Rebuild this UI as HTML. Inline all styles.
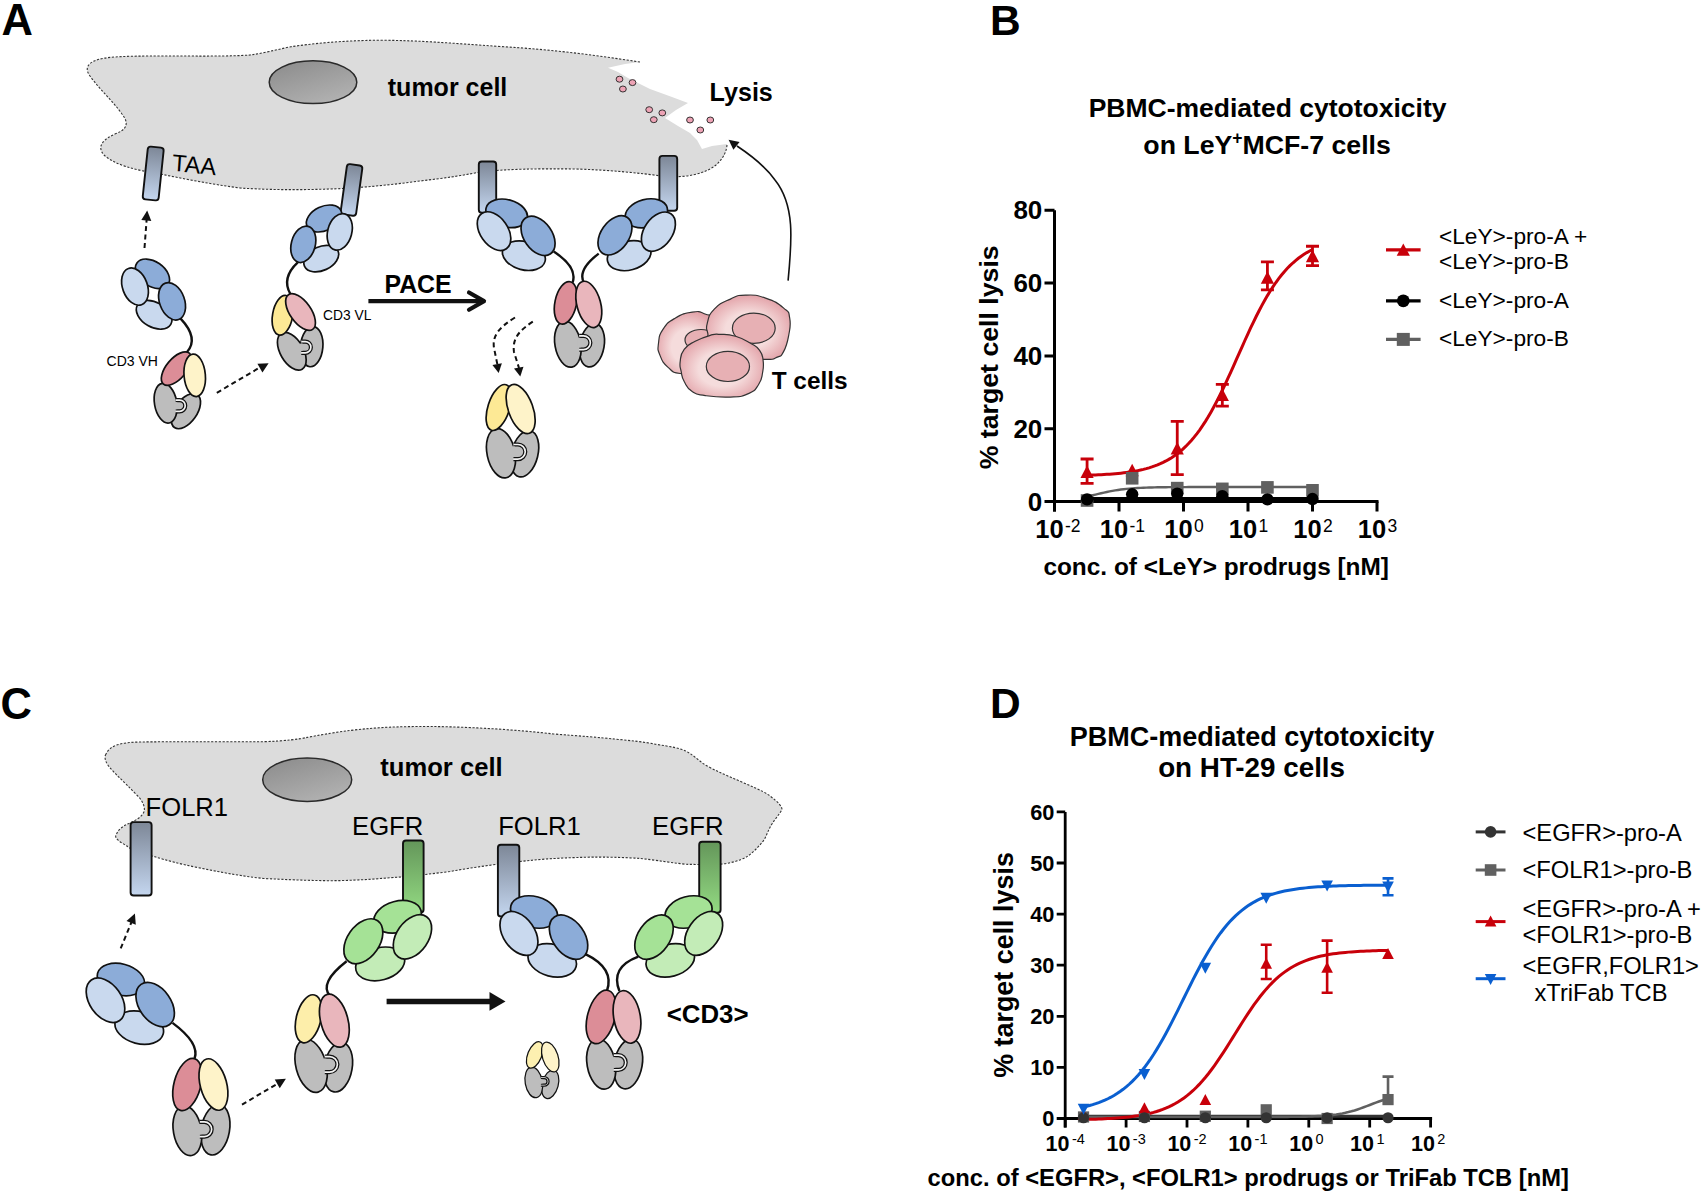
<!DOCTYPE html>
<html><head><meta charset="utf-8"><title>Figure</title>
<style>html,body{margin:0;padding:0;background:#fff;}svg{display:block;}</style>
</head><body>
<svg width="1704" height="1194" viewBox="0 0 1704 1194" font-family='"Liberation Sans", Arial, Helvetica, sans-serif' fill="#000">
<defs>
<linearGradient id="rg" x1="0" y1="0" x2="0" y2="1"><stop offset="0" stop-color="#7d8797"/><stop offset="1" stop-color="#c4d6ef"/></linearGradient>
<linearGradient id="rgC" x1="0" y1="0" x2="0" y2="1"><stop offset="0" stop-color="#7d8797"/><stop offset="1" stop-color="#c4d6ef"/></linearGradient>
<linearGradient id="gg" x1="0" y1="0" x2="0" y2="1"><stop offset="0" stop-color="#64965a"/><stop offset="1" stop-color="#93da82"/></linearGradient>
<linearGradient id="nuc" x1="0" y1="0" x2="0.6" y2="1"><stop offset="0" stop-color="#8a8a8a"/><stop offset="1" stop-color="#b0b0b0"/></linearGradient>
<radialGradient id="tc" cx="0.5" cy="0.55" r="0.55"><stop offset="0.5" stop-color="#f5dcdc"/><stop offset="1" stop-color="#e3a3a9"/></radialGradient>
</defs>
<rect width="1704" height="1194" fill="#fff"/>
<path d="M640 62 C600 56 560 50 500 46.5 C450 43 420 40.5 380 40.2 C340 40.5 310 44 291 46.7 C275 50 262 53.5 250 55 C230 56.5 200 56 160 56 C130 56 110 56.5 100 59 C88 62 84 68 90 76 C100 90 112 100 122 114 C130 124 126 130 115 134 C104 139 96 146 104 155 C115 165 135 170 160 174 C185 179 210 184 240 188 C270 190 300 190 330 189 C360 188 390 185 420 181 C445 178 460 176 480 172 C505 169 540 168.5 575 169 C610 170 640 173 665 176.5 C685 178 705 174 716 165 C724 158 727 150 727 144 L712 146 L702 149 L697 140 L690 133 L678 126 L665 118 L676 110 L688 103 L672 97 L650 89 L628 78 L618 72 L608 67.8 L625 64 Z" fill="#dcdcdc"/>
<path d="M640 62 C600 56 560 50 500 46.5 C450 43 420 40.5 380 40.2 C340 40.5 310 44 291 46.7 C275 50 262 53.5 250 55 C230 56.5 200 56 160 56 C130 56 110 56.5 100 59 C88 62 84 68 90 76 C100 90 112 100 122 114 C130 124 126 130 115 134 C104 139 96 146 104 155 C115 165 135 170 160 174 C185 179 210 184 240 188 C270 190 300 190 330 189 C360 188 390 185 420 181 C445 178 460 176 480 172 C505 169 540 168.5 575 169 C610 170 640 173 665 176.5 C685 178 705 174 716 165 C724 158 727 150 727 144" fill="none" stroke="#333" stroke-width="1.1" stroke-dasharray="2.2 1.6"/>
<ellipse cx="313" cy="82.2" rx="43.8" ry="21.4" fill="url(#nuc)" stroke="#2a2a2a" stroke-width="1.5"/>
<text x="387.8" y="96.4" font-size="25" font-weight="bold">tumor cell</text>
<text x="709.6" y="100.8" font-size="25.1" font-weight="bold">Lysis</text>
<ellipse cx="619.5" cy="79.2" rx="3.4" ry="3" fill="#eda3b5" stroke="#222" stroke-width="0.9"/>
<ellipse cx="632.5" cy="82.6" rx="3.4" ry="3" fill="#eda3b5" stroke="#222" stroke-width="0.9"/>
<ellipse cx="622.9" cy="89" rx="3.4" ry="3" fill="#eda3b5" stroke="#222" stroke-width="0.9"/>
<ellipse cx="649.2" cy="109.7" rx="3.4" ry="3" fill="#eda3b5" stroke="#222" stroke-width="0.9"/>
<ellipse cx="662.3" cy="112.9" rx="3.4" ry="3" fill="#eda3b5" stroke="#222" stroke-width="0.9"/>
<ellipse cx="653.8" cy="119.7" rx="3.4" ry="3" fill="#eda3b5" stroke="#222" stroke-width="0.9"/>
<ellipse cx="690" cy="120" rx="3.4" ry="3" fill="#eda3b5" stroke="#222" stroke-width="0.9"/>
<ellipse cx="710.3" cy="120" rx="3.4" ry="3" fill="#eda3b5" stroke="#222" stroke-width="0.9"/>
<ellipse cx="700.3" cy="130" rx="3.4" ry="3" fill="#eda3b5" stroke="#222" stroke-width="0.9"/>
<rect x="145.2" y="147" width="16" height="53" rx="3" fill="url(#rg)" stroke="#111" stroke-width="1.9" transform="rotate(6 153.2 173.5)"/>
<text x="0" y="0" font-size="23.5" transform="translate(171.8 170.6) rotate(6) skewX(2)">TAA</text>
<rect x="343.7" y="164.6" width="15.6" height="50.7" rx="3" fill="url(#rg)" stroke="#111" stroke-width="1.9" transform="rotate(7.8 351.5 189.95)"/>
<rect x="478.8" y="161.5" width="17.4" height="51.3" rx="3" fill="url(#rg)" stroke="#111" stroke-width="1.9"/>
<rect x="659.4" y="155.9" width="17.8" height="54.8" rx="3" fill="url(#rg)" stroke="#111" stroke-width="1.9"/>
<path d="M144.5 248 L146.6 220" fill="none" stroke="#111" stroke-width="2.0" stroke-dasharray="5 3.5"/>
<path d="M147.2 210.5L151.31 220.9L141.35 220.03Z" fill="#111"/>
<ellipse cx="152.5" cy="273.85" rx="19.01" ry="12.26" transform="rotate(35 152.5 273.85)" fill="#8cacd8" stroke="#111" stroke-width="1.7"/>
<ellipse cx="154.1" cy="314.8" rx="19.25" ry="12.42" transform="rotate(30 154.1 314.8)" fill="#c9d9ee" stroke="#111" stroke-width="1.7"/>
<ellipse cx="135" cy="286.6" rx="12.43" ry="19.26" transform="rotate(-20 135 286.6)" fill="#c9d9ee" stroke="#111" stroke-width="1.7"/>
<ellipse cx="172.05" cy="301.3" rx="12.49" ry="19.36" transform="rotate(-20 172.05 301.3)" fill="#8cacd8" stroke="#111" stroke-width="1.7"/>
<path d="M180.4 318.4Q199.45 338.55 186.7 352.5" fill="none" stroke="#111" stroke-width="2.4"/>
<ellipse cx="185.9" cy="411.15" rx="11.09" ry="19.97" transform="rotate(35 185.9 411.15)" fill="#bdbdbd" stroke="#111" stroke-width="1.7"/>
<ellipse cx="165.65" cy="403.2" rx="11.15" ry="20.07" transform="rotate(-10 165.65 403.2)" fill="#bdbdbd" stroke="#111" stroke-width="1.7"/>
<path d="M175.63 398.6H179.58A7.1 7.1 0 0 1 179.58 412.8H175.63" fill="#f4f4f4" stroke="#111" stroke-width="1.25"/>
<path d="M175.63 401.5H179.58A4.2 4.2 0 0 1 179.58 409.9H175.63" fill="#bdbdbd" stroke="#111" stroke-width="1.25"/>
<rect x="173.63" y="402.15" width="3.6" height="7.1" fill="#bdbdbd"/>
<ellipse cx="176.4" cy="368.6" rx="10.07" ry="20.14" transform="rotate(40 176.4 368.6)" fill="#dc8d97" stroke="#111" stroke-width="1.7"/>
<ellipse cx="194.7" cy="375.3" rx="10.66" ry="21.32" transform="rotate(-5 194.7 375.3)" fill="#fef3c9" stroke="#111" stroke-width="1.7"/>
<text x="106.6" y="365.7" font-size="14">CD3 VH</text>
<path d="M216.8 392.8 L259 368" fill="none" stroke="#111" stroke-width="2.0" stroke-dasharray="5 3.5"/>
<path d="M268.6 363.2L262.44 372.53L257.44 363.87Z" fill="#111"/>
<ellipse cx="324.05" cy="218.5" rx="18.68" ry="12.05" transform="rotate(-25 324.05 218.5)" fill="#8cacd8" stroke="#111" stroke-width="1.7"/>
<ellipse cx="321.25" cy="258.6" rx="18.42" ry="11.89" transform="rotate(-25 321.25 258.6)" fill="#c9d9ee" stroke="#111" stroke-width="1.7"/>
<ellipse cx="303.3" cy="244.35" rx="11.98" ry="18.57" transform="rotate(15 303.3 244.35)" fill="#8cacd8" stroke="#111" stroke-width="1.7"/>
<ellipse cx="339.75" cy="231.9" rx="12.04" ry="18.67" transform="rotate(15 339.75 231.9)" fill="#c9d9ee" stroke="#111" stroke-width="1.7"/>
<path d="M297.8 262.3Q281.1 277.85 290.4 294" fill="none" stroke="#111" stroke-width="2.4"/>
<ellipse cx="311.65" cy="346.65" rx="11.2" ry="20.16" transform="rotate(5 311.65 346.65)" fill="#bdbdbd" stroke="#111" stroke-width="1.7"/>
<ellipse cx="291.8" cy="351.2" rx="11.51" ry="20.72" transform="rotate(-30 291.8 351.2)" fill="#bdbdbd" stroke="#111" stroke-width="1.7"/>
<path d="M301.22 340.1H305.25A7.1 7.1 0 0 1 305.25 354.3H301.22" fill="#f4f4f4" stroke="#111" stroke-width="1.25"/>
<path d="M301.22 343H305.25A4.2 4.2 0 0 1 305.25 351.4H301.22" fill="#bdbdbd" stroke="#111" stroke-width="1.25"/>
<rect x="299.22" y="343.65" width="3.6" height="7.1" fill="#bdbdbd"/>
<ellipse cx="282.6" cy="315.3" rx="10.04" ry="20.09" transform="rotate(10 282.6 315.3)" fill="#fde995" stroke="#111" stroke-width="1.7"/>
<ellipse cx="300.55" cy="312.05" rx="10.56" ry="21.13" transform="rotate(-35 300.55 312.05)" fill="#e9b6bc" stroke="#111" stroke-width="1.7"/>
<text x="323" y="320.4" font-size="13.8">CD3 VL</text>
<text x="384.4" y="292.5" font-size="24.9" font-weight="bold">PACE</text>
<path d="M368.4 301.1H483" stroke="#111" stroke-width="4.2"/>
<path d="M469 292.5L484 301.1L469 309.7" fill="none" stroke="#111" stroke-width="4.2" stroke-linecap="round" stroke-linejoin="round"/>
<ellipse cx="506.65" cy="213.35" rx="21.24" ry="13.7" transform="rotate(15 506.65 213.35)" fill="#8cacd8" stroke="#111" stroke-width="1.7"/>
<ellipse cx="523.9" cy="255.7" rx="21.89" ry="14.12" transform="rotate(15 523.9 255.7)" fill="#c9d9ee" stroke="#111" stroke-width="1.7"/>
<ellipse cx="494.05" cy="231.15" rx="13.87" ry="21.51" transform="rotate(-35 494.05 231.15)" fill="#c9d9ee" stroke="#111" stroke-width="1.7"/>
<ellipse cx="538.05" cy="235.85" rx="14.08" ry="21.82" transform="rotate(-35 538.05 235.85)" fill="#8cacd8" stroke="#111" stroke-width="1.7"/>
<ellipse cx="646.35" cy="213.35" rx="21.59" ry="13.93" transform="rotate(-15 646.35 213.35)" fill="#8cacd8" stroke="#111" stroke-width="1.7"/>
<ellipse cx="629.1" cy="255.7" rx="22.23" ry="14.34" transform="rotate(-15 629.1 255.7)" fill="#c9d9ee" stroke="#111" stroke-width="1.7"/>
<ellipse cx="614.95" cy="235.35" rx="14.05" ry="21.78" transform="rotate(35 614.95 235.35)" fill="#8cacd8" stroke="#111" stroke-width="1.7"/>
<ellipse cx="658.4" cy="231.65" rx="14.06" ry="21.8" transform="rotate(35 658.4 231.65)" fill="#c9d9ee" stroke="#111" stroke-width="1.7"/>
<path d="M553.7 251.5Q577.85 267.4 572.6 282.5" fill="none" stroke="#111" stroke-width="2.4"/>
<path d="M598.7 253.6Q576.8 270.3 584.1 283" fill="none" stroke="#111" stroke-width="2.4"/>
<ellipse cx="591.95" cy="345.25" rx="12.19" ry="21.94" transform="rotate(10 591.95 345.25)" fill="#bdbdbd" stroke="#111" stroke-width="1.7"/>
<ellipse cx="567.85" cy="344.2" rx="12.9" ry="23.22" transform="rotate(-10 567.85 344.2)" fill="#bdbdbd" stroke="#111" stroke-width="1.7"/>
<path d="M579.18 334.38H583.52A8.32 8.32 0 0 1 583.52 351.02H579.18" fill="#f4f4f4" stroke="#111" stroke-width="1.25"/>
<path d="M579.18 337.28H583.52A5.42 5.42 0 0 1 583.52 348.12H579.18" fill="#bdbdbd" stroke="#111" stroke-width="1.25"/>
<rect x="577.18" y="337.93" width="3.6" height="9.54" fill="#bdbdbd"/>
<ellipse cx="565.75" cy="302.85" rx="10.8" ry="21.61" transform="rotate(12 565.75 302.85)" fill="#dc8d97" stroke="#111" stroke-width="1.7"/>
<ellipse cx="588.8" cy="304.4" rx="11.86" ry="23.72" transform="rotate(-15 588.8 304.4)" fill="#e9b6bc" stroke="#111" stroke-width="1.7"/>
<path d="M515 317.5 C500 327 492 335 494 348 L497.5 365" fill="none" stroke="#111" stroke-width="2.0" stroke-dasharray="5 3.5"/>
<path d="M498.7 373L492.41 364.97L501.86 363.3Z" fill="#111"/>
<path d="M532.8 321.7 C520 330 512 338 514 352 L519 368" fill="none" stroke="#111" stroke-width="2.0" stroke-dasharray="5 3.5"/>
<path d="M520.3 376.5L514.01 368.47L523.46 366.8Z" fill="#111"/>
<ellipse cx="524.75" cy="453.75" rx="13.16" ry="23.68" transform="rotate(14 524.75 453.75)" fill="#bdbdbd" stroke="#111" stroke-width="1.7"/>
<ellipse cx="501" cy="453.25" rx="13.93" ry="25.07" transform="rotate(-12 501 453.25)" fill="#bdbdbd" stroke="#111" stroke-width="1.7"/>
<path d="M513.4 443H517.96A8.75 8.75 0 0 1 517.96 460.5H513.4" fill="#f4f4f4" stroke="#111" stroke-width="1.25"/>
<path d="M513.4 445.9H517.96A5.85 5.85 0 0 1 517.96 457.6H513.4" fill="#bdbdbd" stroke="#111" stroke-width="1.25"/>
<rect x="511.4" y="446.55" width="3.6" height="10.4" fill="#bdbdbd"/>
<ellipse cx="498.8" cy="407.5" rx="10.85" ry="23.88" transform="rotate(18 498.8 407.5)" fill="#fde995" stroke="#111" stroke-width="1.7"/>
<ellipse cx="520.65" cy="409" rx="12.28" ry="25.79" transform="rotate(-20 520.65 409)" fill="#fef3c9" stroke="#111" stroke-width="1.7"/>
<path d="M705 314C698.65 311.36 700.17 310.98 692.2 312.1C684.23 313.22 682.86 313.64 675.1 318.2C667.34 322.76 667.53 322.51 663.1 329.2C658.67 335.89 659.33 336.31 658.5 343.3C657.67 350.29 657.44 348.97 660 355.4C662.56 361.83 662.71 362.57 668.1 367.4C673.49 372.23 671.69 372.27 680.2 373.5C688.71 374.73 690.45 378.27 700 372C709.55 365.73 711.73 363.33 716 350C720.27 336.67 718.93 331.6 716 322C713.07 312.4 711.35 316.64 705 314Z" fill="url(#tc)" stroke="#333" stroke-width="1.2"/>
<ellipse cx="701" cy="340" rx="16" ry="10.5" fill="#e7b0b4" stroke="#333" stroke-width="1.2"/>
<path d="M707.3 323.2C709.03 316.75 708.14 315.53 714.3 309.1C720.46 302.67 722.08 302.83 730.4 299.1C738.72 295.37 736.11 295.37 745.5 295.1C754.89 294.83 755.41 294.63 765.6 298.1C775.79 301.57 777.27 302.74 783.7 308.1C790.13 313.46 788.37 310.95 789.7 318.2C791.03 325.45 790.3 326.45 788.7 335.3C787.1 344.15 786.9 345.51 783.7 351.4C780.5 357.29 781.53 355.27 776.7 357.4C771.87 359.53 775.39 359.77 765.6 359.4C755.81 359.03 754.29 359.84 740 356C725.71 352.16 720.59 351.05 712 345C703.41 338.95 709.05 339.11 707.8 333.3C706.55 327.49 705.57 329.65 707.3 323.2Z" fill="url(#tc)" stroke="#333" stroke-width="1.2"/>
<ellipse cx="753.8" cy="328.2" rx="21.4" ry="15.1" fill="#e7b0b4" stroke="#333" stroke-width="1.2"/>
<path d="M680.2 361.4C681 355.48 680.2 354.66 684.2 349.3C688.2 343.94 688.24 345.03 695.2 341.3C702.16 337.57 703.58 337.17 710.3 335.3C717.02 333.43 713.68 334.03 720.4 334.3C727.12 334.57 727.47 333.9 735.5 336.3C743.53 338.7 744.07 339.57 750.5 343.3C756.93 347.03 756.24 345.74 759.6 350.3C762.96 354.86 762.3 354.48 763.1 360.4C763.9 366.32 763.8 366.07 762.6 372.5C761.4 378.93 762.36 378.87 758.6 384.5C754.84 390.13 756.02 390.24 748.5 393.6C740.98 396.96 741.92 396.57 730.4 397.1C718.88 397.63 715.49 397.07 705.3 395.6C695.11 394.13 697.83 395.36 692.2 391.6C686.57 387.84 687.13 386.86 684.2 381.5C681.27 376.14 682.27 376.86 681.2 371.5C680.13 366.14 679.4 367.32 680.2 361.4Z" fill="url(#tc)" stroke="#333" stroke-width="1.2"/>
<ellipse cx="727.9" cy="366.4" rx="21.6" ry="15.1" fill="#e7b0b4" stroke="#333" stroke-width="1.2"/>
<text x="771.7" y="388.6" font-size="24.4" font-weight="bold">T cells</text>
<path d="M788.1 280.6 C792 240 795 205 775 180 C768 170 755 158 737 146" fill="none" stroke="#111" stroke-width="1.6"/>
<path d="M728.6 139.7L739.56 141.92L733.4 149.8Z" fill="#111"/>
<text x="1.5" y="34.6" font-size="43.5" font-weight="bold">A</text>
<path d="M105.5 755 C110 745 120 742.5 140 742 C170 741.5 220 742 263.7 741.7 C285 741 300 739 307.2 737.4 C325 734 338 732 350.6 730.4 C380 727 400 726.5 430 726.5 C470 726.8 520 730 552.7 733.9 C580 736 600 737.5 614.3 739 C630 740.5 645 742 655.4 744.2 C670 746.5 680 748 686.2 751.3 C695 756 700 762 706.7 765.7 C718 772 728 776 737.5 780.1 C750 786 762 790 770 796 C778 802 783 807 781.7 810 C779 815 775 819 772.4 823.2 C768 830 767 835 764.2 839.7 C758 848 752 853 747.8 856.1 C740 861 728 864 717 864.3 C705 864.5 695 864.5 686.2 864.3 C665 862 650 859 634.8 858.1 C620 857.3 605 857 593.8 857.1 C570 857.5 550 858.5 532.2 860.2 C505 863 475 867 450 871.5 C430 874 410 876.5 394 877.4 C370 879.5 350 880.7 328.9 880.7 C305 880.5 285 879.5 263.7 878.5 C240 876 220 872 198.6 867.7 C180 864 165 860 155.1 856.8 C140 853 130 849 126.9 846 C120 842 114 838 116.1 835.1 C118 830 122 826 130 823 C136 820 142 817 144.3 811.2 C145 806 142 800 137.8 796 C130 788 124 782 118.2 776.5 C112 770 103 762 105.5 755 Z" fill="#dcdcdc" stroke="#333" stroke-width="1.1" stroke-dasharray="2.2 1.6"/>
<ellipse cx="307.2" cy="779.7" rx="44.5" ry="21.7" fill="url(#nuc)" stroke="#2a2a2a" stroke-width="1.5"/>
<text x="380.3" y="776" font-size="25.6" font-weight="bold">tumor cell</text>
<text x="145.6" y="815.5" font-size="25.6">FOLR1</text>
<text x="352" y="834.8" font-size="25.7">EGFR</text>
<text x="498.2" y="834.8" font-size="25.6">FOLR1</text>
<text x="652" y="834.5" font-size="25.8">EGFR</text>
<rect x="130.6" y="822.1" width="21" height="73.4" rx="3" fill="url(#rgC)" stroke="#111" stroke-width="1.9"/>
<rect x="403" y="840.5" width="20.6" height="72" rx="3" fill="url(#gg)" stroke="#111" stroke-width="1.9"/>
<rect x="497.9" y="844.8" width="21.4" height="71.6" rx="3" fill="url(#rgC)" stroke="#111" stroke-width="1.9"/>
<rect x="699.2" y="841.7" width="21.4" height="71" rx="3" fill="url(#gg)" stroke="#111" stroke-width="1.9"/>
<path d="M120.7 948.4 L131.5 922" fill="none" stroke="#111" stroke-width="2.0" stroke-dasharray="5 3.5"/>
<path d="M134.9 913.6L135.79 924.74L126.52 921Z" fill="#111"/>
<ellipse cx="120.9" cy="979.5" rx="24.15" ry="15.58" transform="rotate(15 120.9 979.5)" fill="#8cacd8" stroke="#111" stroke-width="1.7"/>
<ellipse cx="139.25" cy="1027.65" rx="24.78" ry="15.99" transform="rotate(15 139.25 1027.65)" fill="#c9d9ee" stroke="#111" stroke-width="1.7"/>
<ellipse cx="105.5" cy="1000.25" rx="15.95" ry="24.73" transform="rotate(-35 105.5 1000.25)" fill="#c9d9ee" stroke="#111" stroke-width="1.7"/>
<ellipse cx="155.15" cy="1004.55" rx="15.91" ry="24.66" transform="rotate(-35 155.15 1004.55)" fill="#8cacd8" stroke="#111" stroke-width="1.7"/>
<path d="M172.5 1022.9Q200.05 1043.3 194.6 1058.5" fill="none" stroke="#111" stroke-width="2.4"/>
<ellipse cx="215.35" cy="1129.75" rx="14.17" ry="25.5" transform="rotate(10 215.35 1129.75)" fill="#bdbdbd" stroke="#111" stroke-width="1.7"/>
<ellipse cx="187.4" cy="1130.75" rx="13.98" ry="25.16" transform="rotate(-10 187.4 1130.75)" fill="#bdbdbd" stroke="#111" stroke-width="1.7"/>
<path d="M199.82 1120.48H204.39A8.77 8.77 0 0 1 204.39 1138.02H199.82" fill="#f4f4f4" stroke="#111" stroke-width="1.25"/>
<path d="M199.82 1123.38H204.39A5.87 5.87 0 0 1 204.39 1135.12H199.82" fill="#bdbdbd" stroke="#111" stroke-width="1.25"/>
<rect x="197.82" y="1124.03" width="3.6" height="10.44" fill="#bdbdbd"/>
<ellipse cx="187.4" cy="1084.5" rx="13.4" ry="26.8" transform="rotate(15 187.4 1084.5)" fill="#dc8d97" stroke="#111" stroke-width="1.7"/>
<ellipse cx="213.45" cy="1084.5" rx="13.19" ry="26.39" transform="rotate(-15 213.45 1084.5)" fill="#fef3c9" stroke="#111" stroke-width="1.7"/>
<path d="M242 1104.6 L277 1084" fill="none" stroke="#111" stroke-width="2.0" stroke-dasharray="5 3.5"/>
<path d="M285.9 1078.8L279.74 1088.13L274.74 1079.47Z" fill="#111"/>
<ellipse cx="397.6" cy="916.8" rx="24.21" ry="15.62" transform="rotate(-15 397.6 916.8)" fill="#a5e296" stroke="#111" stroke-width="1.7"/>
<ellipse cx="380.15" cy="963.9" rx="25" ry="16.13" transform="rotate(-15 380.15 963.9)" fill="#c3ecb7" stroke="#111" stroke-width="1.7"/>
<ellipse cx="363.35" cy="941.3" rx="16.13" ry="25" transform="rotate(35 363.35 941.3)" fill="#a5e296" stroke="#111" stroke-width="1.7"/>
<ellipse cx="412.45" cy="936.85" rx="15.86" ry="24.59" transform="rotate(35 412.45 936.85)" fill="#c3ecb7" stroke="#111" stroke-width="1.7"/>
<path d="M346.6 961.3Q318.8 983 329.8 995.5" fill="none" stroke="#111" stroke-width="2.4"/>
<ellipse cx="338.25" cy="1067.2" rx="13.91" ry="25.04" transform="rotate(10 338.25 1067.2)" fill="#bdbdbd" stroke="#111" stroke-width="1.7"/>
<ellipse cx="311.1" cy="1065.85" rx="15.12" ry="27.21" transform="rotate(-15 311.1 1065.85)" fill="#bdbdbd" stroke="#111" stroke-width="1.7"/>
<path d="M324.78 1055.1H329.61A9.25 9.25 0 0 1 329.61 1073.6H324.78" fill="#f4f4f4" stroke="#111" stroke-width="1.25"/>
<path d="M324.78 1058H329.61A6.35 6.35 0 0 1 329.61 1070.7H324.78" fill="#bdbdbd" stroke="#111" stroke-width="1.25"/>
<rect x="322.78" y="1058.65" width="3.6" height="11.4" fill="#bdbdbd"/>
<ellipse cx="308.55" cy="1018.8" rx="12.29" ry="24.57" transform="rotate(14 308.55 1018.8)" fill="#fdeeaa" stroke="#111" stroke-width="1.7"/>
<ellipse cx="334.35" cy="1020.7" rx="13.6" ry="27.19" transform="rotate(-15 334.35 1020.7)" fill="#e9b6bc" stroke="#111" stroke-width="1.7"/>
<path d="M386.6 1001.4H492" stroke="#111" stroke-width="5.5"/>
<path d="M505.5 1001.4L489.5 992L489.5 1010.8Z" fill="#111"/>
<ellipse cx="534.05" cy="912" rx="23.99" ry="15.48" transform="rotate(15 534.05 912)" fill="#8cacd8" stroke="#111" stroke-width="1.7"/>
<ellipse cx="552.2" cy="960.4" rx="24.72" ry="15.95" transform="rotate(15 552.2 960.4)" fill="#c9d9ee" stroke="#111" stroke-width="1.7"/>
<ellipse cx="518.95" cy="933.4" rx="15.71" ry="24.34" transform="rotate(-35 518.95 933.4)" fill="#c9d9ee" stroke="#111" stroke-width="1.7"/>
<ellipse cx="568.55" cy="937.15" rx="15.9" ry="24.64" transform="rotate(-35 568.55 937.15)" fill="#8cacd8" stroke="#111" stroke-width="1.7"/>
<ellipse cx="688.55" cy="912" rx="23.99" ry="15.48" transform="rotate(-15 688.55 912)" fill="#a5e296" stroke="#111" stroke-width="1.7"/>
<ellipse cx="670.3" cy="960.4" rx="24.72" ry="15.95" transform="rotate(-15 670.3 960.4)" fill="#c3ecb7" stroke="#111" stroke-width="1.7"/>
<ellipse cx="654" cy="937.15" rx="15.92" ry="24.67" transform="rotate(35 654 937.15)" fill="#a5e296" stroke="#111" stroke-width="1.7"/>
<ellipse cx="703.65" cy="933.4" rx="15.71" ry="24.34" transform="rotate(35 703.65 933.4)" fill="#c3ecb7" stroke="#111" stroke-width="1.7"/>
<path d="M585.5 954.1Q615 968.45 606.9 991" fill="none" stroke="#111" stroke-width="2.4"/>
<path d="M638.3 956.6Q609.95 967.2 619.4 991" fill="none" stroke="#111" stroke-width="2.4"/>
<ellipse cx="628.25" cy="1064" rx="13.96" ry="25.13" transform="rotate(10 628.25 1064)" fill="#bdbdbd" stroke="#111" stroke-width="1.7"/>
<ellipse cx="601.2" cy="1064" rx="14.12" ry="25.41" transform="rotate(-10 601.2 1064)" fill="#bdbdbd" stroke="#111" stroke-width="1.7"/>
<path d="M613.76 1053.67H618.37A8.83 8.83 0 0 1 618.37 1071.33H613.76" fill="#f4f4f4" stroke="#111" stroke-width="1.25"/>
<path d="M613.76 1056.57H618.37A5.93 5.93 0 0 1 618.37 1068.43H613.76" fill="#bdbdbd" stroke="#111" stroke-width="1.25"/>
<rect x="611.76" y="1057.22" width="3.6" height="10.56" fill="#bdbdbd"/>
<ellipse cx="601.2" cy="1016.95" rx="13.71" ry="27.43" transform="rotate(15 601.2 1016.95)" fill="#dc8d97" stroke="#111" stroke-width="1.7"/>
<ellipse cx="627" cy="1016.95" rx="13.3" ry="26.6" transform="rotate(-10 627 1016.95)" fill="#e9b6bc" stroke="#111" stroke-width="1.7"/>
<text x="666.8" y="1023" font-size="25.8" font-weight="bold">&lt;CD3&gt;</text>
<ellipse cx="550.2" cy="1084.3" rx="8.07" ry="14.53" transform="rotate(15 550.2 1084.3)" fill="#bdbdbd" stroke="#111" stroke-width="1.25"/>
<ellipse cx="533.8" cy="1082.4" rx="8.61" ry="15.5" transform="rotate(-10 533.8 1082.4)" fill="#bdbdbd" stroke="#111" stroke-width="1.25"/>
<path d="M540.87 1076.6H544.26A4.8 4.8 0 0 1 544.26 1086.2H540.87" fill="#f4f4f4" stroke="#111" stroke-width="1.25"/>
<path d="M540.87 1078.6H544.26A2.8 2.8 0 0 1 544.26 1084.2H540.87" fill="#bdbdbd" stroke="#111" stroke-width="1.25"/>
<rect x="538.87" y="1079.25" width="3.6" height="4.3" fill="#bdbdbd"/>
<ellipse cx="534.75" cy="1054.95" rx="6.99" ry="13.99" transform="rotate(22 534.75 1054.95)" fill="#fdf0b0" stroke="#111" stroke-width="1.25"/>
<ellipse cx="550.3" cy="1057" rx="7.77" ry="15.54" transform="rotate(-18 550.3 1057)" fill="#fef3c9" stroke="#111" stroke-width="1.25"/>
<text x="0.5" y="719.2" font-size="43.5" font-weight="bold">C</text>
<text x="990" y="34.8" font-size="42.5" font-weight="bold">B</text>
<text x="990" y="717.9" font-size="42.5" font-weight="bold">D</text>
<text x="1267.6" y="116.7" font-size="26.5" font-weight="bold" text-anchor="middle">PBMC-mediated cytotoxicity</text>
<text x="1267.1" y="153.6" font-size="26.7" font-weight="bold" text-anchor="middle">on LeY<tspan dy="-10" font-size="17.5">+</tspan><tspan dy="10">MCF-7 cells</tspan></text>
<text transform="translate(998.2 357.3) rotate(-90)" font-size="26.7" font-weight="bold" text-anchor="middle">% target cell lysis</text>
<text x="1216.2" y="575.1" font-size="24.4" font-weight="bold" text-anchor="middle">conc. of &lt;LeY&gt; prodrugs [nM]</text>
<path d="M1054.5 210.16V511.6M1053 501.6H1378.5" stroke="#000" stroke-width="3" fill="none"/>
<text x="1042.3" y="510.8" font-size="26" font-weight="bold" text-anchor="end">0</text>
<text x="1042.3" y="437.94" font-size="26" font-weight="bold" text-anchor="end">20</text>
<text x="1042.3" y="365.08" font-size="26" font-weight="bold" text-anchor="end">40</text>
<text x="1042.3" y="292.22" font-size="26" font-weight="bold" text-anchor="end">60</text>
<text x="1042.3" y="219.36" font-size="26" font-weight="bold" text-anchor="end">80</text>
<text x="1035.3" y="538.3" font-size="25.5" font-weight="bold">10<tspan dx="1.3" dy="-6.4" font-size="17.5" font-weight="normal">-2</tspan></text>
<text x="1099.8" y="538.3" font-size="25.5" font-weight="bold">10<tspan dx="1.3" dy="-6.4" font-size="17.5" font-weight="normal">-1</tspan></text>
<text x="1164.3" y="538.3" font-size="25.5" font-weight="bold">10<tspan dx="1.3" dy="-6.4" font-size="17.5" font-weight="normal">0</tspan></text>
<text x="1228.8" y="538.3" font-size="25.5" font-weight="bold">10<tspan dx="1.3" dy="-6.4" font-size="17.5" font-weight="normal">1</tspan></text>
<text x="1293.3" y="538.3" font-size="25.5" font-weight="bold">10<tspan dx="1.3" dy="-6.4" font-size="17.5" font-weight="normal">2</tspan></text>
<text x="1357.8" y="538.3" font-size="25.5" font-weight="bold">10<tspan dx="1.3" dy="-6.4" font-size="17.5" font-weight="normal">3</tspan></text>
<path d="M1044.5 501.6H1054.5M1044.5 428.74H1054.5M1044.5 355.88H1054.5M1044.5 283.02H1054.5M1044.5 210.16H1054.5M1054.5 501.6V511.6M1119 501.6V511.6M1183.5 501.6V511.6M1248 501.6V511.6M1312.5 501.6V511.6M1377 501.6V511.6" stroke="#000" stroke-width="3" fill="none"/>
<path d="M1087.08 475.26L1089.9 475.17L1092.72 475.07L1095.54 474.95L1098.35 474.82L1101.17 474.68L1103.99 474.53L1106.81 474.35L1109.62 474.16L1112.44 473.95L1115.26 473.71L1118.08 473.45L1120.89 473.15L1123.71 472.83L1126.53 472.47L1129.35 472.07L1132.17 471.63L1134.98 471.15L1137.8 470.61L1140.62 470.01L1143.44 469.35L1146.25 468.62L1149.07 467.82L1151.89 466.93L1154.71 465.95L1157.53 464.88L1160.34 463.69L1163.16 462.39L1165.98 460.96L1168.8 459.39L1171.61 457.67L1174.43 455.79L1177.25 453.74L1180.07 451.5L1182.88 449.07L1185.7 446.43L1188.52 443.57L1191.34 440.48L1194.16 437.16L1196.97 433.59L1199.79 429.77L1202.61 425.69L1205.43 421.35L1208.24 416.76L1211.06 411.91L1213.88 406.82L1216.7 401.5L1219.52 395.96L1222.33 390.22L1225.15 384.3L1227.97 378.24L1230.79 372.06L1233.6 365.78L1236.42 359.46L1239.24 353.11L1242.06 346.78L1244.87 340.5L1247.69 334.3L1250.51 328.22L1253.33 322.28L1256.15 316.52L1258.96 310.95L1261.78 305.6L1264.6 300.48L1267.42 295.6L1270.23 290.98L1273.05 286.61L1275.87 282.5L1278.69 278.64L1281.51 275.04L1284.32 271.68L1287.14 268.57L1289.96 265.68L1292.78 263.01L1295.59 260.56L1298.41 258.3L1301.23 256.22L1304.05 254.32L1306.86 252.58L1309.68 250.99L1312.5 249.55" stroke="#c8000a" stroke-width="3" fill="none"/>
<path d="M1087.08 458.98V483.39M1080.58 458.98h13M1080.58 483.39h13" stroke="#c8000a" stroke-width="2.8" fill="none"/>
<path d="M1087.08 465.5L1093.68 478L1080.48 478Z" fill="#c8000a"/>
<path d="M1132.17 463.86L1138.77 476.36L1125.57 476.36Z" fill="#c8000a"/>
<path d="M1177.25 421.45V474.64M1170.75 421.45h13M1170.75 474.64h13" stroke="#c8000a" stroke-width="2.8" fill="none"/>
<path d="M1177.25 442.01L1183.85 454.51L1170.65 454.51Z" fill="#c8000a"/>
<path d="M1222.33 384.3V406.15M1215.83 384.3h13M1215.83 406.15h13" stroke="#c8000a" stroke-width="2.8" fill="none"/>
<path d="M1222.33 388.45L1228.93 400.95L1215.73 400.95Z" fill="#c8000a"/>
<path d="M1267.42 261.89V289.94M1260.92 261.89h13M1260.92 289.94h13" stroke="#c8000a" stroke-width="2.8" fill="none"/>
<path d="M1267.42 271.15L1274.02 283.65L1260.82 283.65Z" fill="#c8000a"/>
<path d="M1312.5 246.23V265.53M1306 246.23h13M1306 265.53h13" stroke="#c8000a" stroke-width="2.8" fill="none"/>
<path d="M1312.5 249.65L1319.1 262.15L1305.9 262.15Z" fill="#c8000a"/>
<path d="M1087.08 496.48L1089.9 495.87L1092.72 495.23L1095.54 494.57L1098.35 493.91L1101.17 493.26L1103.99 492.62L1106.81 492.01L1109.62 491.44L1112.44 490.9L1115.26 490.41L1118.08 489.96L1120.89 489.56L1123.71 489.2L1126.53 488.89L1129.35 488.61L1132.17 488.38L1134.98 488.17L1137.8 487.99L1140.62 487.84L1143.44 487.71L1146.25 487.6L1149.07 487.51L1151.89 487.43L1154.71 487.37L1157.53 487.31L1160.34 487.27L1163.16 487.23L1165.98 487.2L1168.8 487.17L1171.61 487.14L1174.43 487.13L1177.25 487.11L1180.07 487.1L1182.88 487.08L1185.7 487.08L1188.52 487.07L1191.34 487.06L1194.16 487.06L1196.97 487.05L1199.79 487.05L1202.61 487.04L1205.43 487.04L1208.24 487.04L1211.06 487.04L1213.88 487.04L1216.7 487.03L1219.52 487.03L1222.33 487.03L1225.15 487.03L1227.97 487.03L1230.79 487.03L1233.6 487.03L1236.42 487.03L1239.24 487.03L1242.06 487.03L1244.87 487.03L1247.69 487.03L1250.51 487.03L1253.33 487.03L1256.15 487.03L1258.96 487.03L1261.78 487.03L1264.6 487.03L1267.42 487.03L1270.23 487.03L1273.05 487.03L1275.87 487.03L1278.69 487.03L1281.51 487.03L1284.32 487.03L1287.14 487.03L1289.96 487.03L1292.78 487.03L1295.59 487.03L1298.41 487.03L1301.23 487.03L1304.05 487.03L1306.86 487.03L1309.68 487.03L1312.5 487.03" stroke="#606060" stroke-width="2.4" fill="none"/>
<rect x="1080.78" y="494.21" width="12.6" height="12.6" fill="#606060"/>
<rect x="1125.87" y="471.98" width="12.6" height="12.6" fill="#606060"/>
<rect x="1170.95" y="481.82" width="12.6" height="12.6" fill="#606060"/>
<rect x="1216.03" y="482.55" width="12.6" height="12.6" fill="#606060"/>
<rect x="1261.12" y="481.09" width="12.6" height="12.6" fill="#606060"/>
<rect x="1306.2" y="484.01" width="12.6" height="12.6" fill="#606060"/>
<path d="M1087.08 498.69H1312.5" stroke="#000" stroke-width="3.2" fill="none"/>
<circle cx="1087.08" cy="499.41" r="6.2" fill="#000"/>
<circle cx="1132.17" cy="494.31" r="6.2" fill="#000"/>
<circle cx="1177.25" cy="493.59" r="6.2" fill="#000"/>
<circle cx="1222.33" cy="496.14" r="6.2" fill="#000"/>
<circle cx="1267.42" cy="499.41" r="6.2" fill="#000"/>
<circle cx="1312.5" cy="499.05" r="6.2" fill="#000"/>
<path d="M1386 249.8h34.6" stroke="#c8000a" stroke-width="3.2"/>
<path d="M1403.3 243.5l6.6 12.3h-13.2z" fill="#c8000a"/>
<path d="M1386 300.8h34.6" stroke="#000" stroke-width="3.2"/>
<circle cx="1403.3" cy="300.8" r="6.4" fill="#000"/>
<path d="M1386 339.4h34.6" stroke="#606060" stroke-width="3.2"/>
<rect x="1396.8" y="332.9" width="13" height="13" fill="#606060"/>
<text x="1439" y="244.3" font-size="22.7">&lt;LeY&gt;-pro-A +</text>
<text x="1439" y="268.8" font-size="22.7">&lt;LeY&gt;-pro-B</text>
<text x="1439" y="307.5" font-size="22.7">&lt;LeY&gt;-pro-A</text>
<text x="1439" y="345.9" font-size="22.7">&lt;LeY&gt;-pro-B</text>
<text x="1252" y="745.7" font-size="27" font-weight="bold" text-anchor="middle">PBMC-mediated cytotoxicity</text>
<text x="1251.6" y="777.4" font-size="27.8" font-weight="bold" text-anchor="middle">on HT-29 cells</text>
<text transform="translate(1013 965) rotate(-90)" font-size="26.9" font-weight="bold" text-anchor="middle">% target cell lysis</text>
<text x="1248.2" y="1185.9" font-size="23.75" font-weight="bold" text-anchor="middle">conc. of &lt;EGFR&gt;, &lt;FOLR1&gt; prodrugs or TriFab TCB [nM]</text>
<path d="M1065.2 811.9V1127.5M1063.7 1118.5H1432.1" stroke="#000" stroke-width="2.8" fill="none"/>
<text x="1054.4" y="1126.4" font-size="21.8" font-weight="bold" text-anchor="end">0</text>
<text x="1054.4" y="1075.3" font-size="21.8" font-weight="bold" text-anchor="end">10</text>
<text x="1054.4" y="1024.2" font-size="21.8" font-weight="bold" text-anchor="end">20</text>
<text x="1054.4" y="973.1" font-size="21.8" font-weight="bold" text-anchor="end">30</text>
<text x="1054.4" y="922" font-size="21.8" font-weight="bold" text-anchor="end">40</text>
<text x="1054.4" y="870.9" font-size="21.8" font-weight="bold" text-anchor="end">50</text>
<text x="1054.4" y="819.8" font-size="21.8" font-weight="bold" text-anchor="end">60</text>
<text x="1045.6" y="1150.6" font-size="21.5" font-weight="bold">10<tspan dx="2.4" dy="-6.6" font-size="14.5" font-weight="normal">-4</tspan></text>
<text x="1106.5" y="1150.6" font-size="21.5" font-weight="bold">10<tspan dx="2.4" dy="-6.6" font-size="14.5" font-weight="normal">-3</tspan></text>
<text x="1167.4" y="1150.6" font-size="21.5" font-weight="bold">10<tspan dx="2.4" dy="-6.6" font-size="14.5" font-weight="normal">-2</tspan></text>
<text x="1228.3" y="1150.6" font-size="21.5" font-weight="bold">10<tspan dx="2.4" dy="-6.6" font-size="14.5" font-weight="normal">-1</tspan></text>
<text x="1289.2" y="1150.6" font-size="21.5" font-weight="bold">10<tspan dx="2.4" dy="-6.6" font-size="14.5" font-weight="normal">0</tspan></text>
<text x="1350.1" y="1150.6" font-size="21.5" font-weight="bold">10<tspan dx="2.4" dy="-6.6" font-size="14.5" font-weight="normal">1</tspan></text>
<text x="1411" y="1150.6" font-size="21.5" font-weight="bold">10<tspan dx="2.4" dy="-6.6" font-size="14.5" font-weight="normal">2</tspan></text>
<path d="M1056.7 1118.5H1065.2M1056.7 1067.4H1065.2M1056.7 1016.3H1065.2M1056.7 965.2H1065.2M1056.7 914.1H1065.2M1056.7 863H1065.2M1056.7 811.9H1065.2M1065.2 1118.5V1127.5M1126.1 1118.5V1127.5M1187 1118.5V1127.5M1247.9 1118.5V1127.5M1308.8 1118.5V1127.5M1369.7 1118.5V1127.5M1430.6 1118.5V1127.5" stroke="#000" stroke-width="2.8" fill="none"/>
<path d="M1083.53 1116.2H1388.03" stroke="#333333" stroke-width="3" fill="none"/>
<path d="M1083.53 1116.97L1086.58 1116.97L1089.62 1116.97L1092.67 1116.97L1095.71 1116.97L1098.76 1116.97L1101.8 1116.97L1104.85 1116.97L1107.89 1116.97L1110.94 1116.97L1113.98 1116.97L1117.03 1116.97L1120.07 1116.97L1123.12 1116.97L1126.16 1116.97L1129.21 1116.97L1132.25 1116.97L1135.3 1116.97L1138.34 1116.97L1141.39 1116.97L1144.43 1116.97L1147.48 1116.97L1150.52 1116.97L1153.57 1116.97L1156.61 1116.97L1159.66 1116.97L1162.7 1116.97L1165.75 1116.97L1168.79 1116.97L1171.84 1116.97L1174.88 1116.97L1177.93 1116.97L1180.97 1116.97L1184.02 1116.97L1187.06 1116.97L1190.11 1116.97L1193.15 1116.97L1196.2 1116.97L1199.24 1116.97L1202.29 1116.97L1205.33 1116.97L1208.38 1116.97L1211.42 1116.97L1214.47 1116.97L1217.51 1116.97L1220.56 1116.97L1223.6 1116.96L1226.65 1116.96L1229.69 1116.96L1232.74 1116.96L1235.78 1116.96L1238.83 1116.96L1241.87 1116.96L1244.92 1116.96L1247.96 1116.96L1251.01 1116.96L1254.05 1116.95L1257.1 1116.95L1260.14 1116.95L1263.19 1116.94L1266.23 1116.94L1269.28 1116.93L1272.32 1116.92L1275.37 1116.91L1278.41 1116.9L1281.46 1116.88L1284.5 1116.87L1287.55 1116.85L1290.59 1116.82L1293.64 1116.79L1296.68 1116.75L1299.73 1116.7L1302.77 1116.65L1305.82 1116.58L1308.86 1116.5L1311.91 1116.4L1314.95 1116.28L1318 1116.13L1321.04 1115.96L1324.09 1115.75L1327.13 1115.5L1330.18 1115.21L1333.22 1114.87L1336.27 1114.46L1339.31 1113.98L1342.36 1113.43L1345.4 1112.8L1348.45 1112.09L1351.49 1111.28L1354.54 1110.39L1357.58 1109.41L1360.63 1108.36L1363.67 1107.26L1366.72 1106.11L1369.76 1104.93L1372.81 1103.76L1375.85 1102.61L1378.9 1101.51L1381.94 1100.46L1384.99 1099.49L1388.03 1098.6" stroke="#606060" stroke-width="2.6" fill="none"/>
<path d="M1083.53 1119.47L1086.58 1119.4L1089.62 1119.32L1092.67 1119.24L1095.71 1119.14L1098.76 1119.03L1101.8 1118.91L1104.85 1118.77L1107.89 1118.62L1110.94 1118.45L1113.98 1118.26L1117.03 1118.04L1120.07 1117.8L1123.12 1117.54L1126.16 1117.24L1129.21 1116.9L1132.25 1116.53L1135.3 1116.11L1138.34 1115.64L1141.39 1115.12L1144.43 1114.54L1147.48 1113.9L1150.52 1113.18L1153.57 1112.38L1156.61 1111.49L1159.66 1110.51L1162.7 1109.42L1165.75 1108.22L1168.79 1106.89L1171.84 1105.42L1174.88 1103.81L1177.93 1102.04L1180.97 1100.1L1184.02 1097.98L1187.06 1095.67L1190.11 1093.17L1193.15 1090.46L1196.2 1087.54L1199.24 1084.41L1202.29 1081.06L1205.33 1077.49L1208.38 1073.71L1211.42 1069.73L1214.47 1065.56L1217.51 1061.21L1220.56 1056.71L1223.6 1052.06L1226.65 1047.32L1229.69 1042.49L1232.74 1037.61L1235.78 1032.71L1238.83 1027.83L1241.87 1022.99L1244.92 1018.24L1247.96 1013.59L1251.01 1009.07L1254.05 1004.7L1257.1 1000.52L1260.14 996.52L1263.19 992.72L1266.23 989.14L1269.28 985.77L1272.32 982.62L1275.37 979.68L1278.41 976.95L1281.46 974.43L1284.5 972.11L1287.55 969.98L1290.59 968.02L1293.64 966.24L1296.68 964.61L1299.73 963.14L1302.77 961.79L1305.82 960.58L1308.86 959.48L1311.91 958.49L1314.95 957.59L1318 956.79L1321.04 956.06L1324.09 955.41L1327.13 954.83L1330.18 954.3L1333.22 953.83L1336.27 953.41L1339.31 953.03L1342.36 952.69L1345.4 952.39L1348.45 952.12L1351.49 951.88L1354.54 951.66L1357.58 951.47L1360.63 951.3L1363.67 951.14L1366.72 951.01L1369.76 950.88L1372.81 950.77L1375.85 950.68L1378.9 950.59L1381.94 950.51L1384.99 950.44L1388.03 950.38" stroke="#c8000a" stroke-width="3" fill="none"/>
<path d="M1083.53 1106.99L1086.58 1106.28L1089.62 1105.5L1092.67 1104.63L1095.71 1103.67L1098.76 1102.61L1101.8 1101.44L1104.85 1100.16L1107.89 1098.74L1110.94 1097.19L1113.98 1095.48L1117.03 1093.61L1120.07 1091.57L1123.12 1089.33L1126.16 1086.9L1129.21 1084.26L1132.25 1081.4L1135.3 1078.3L1138.34 1074.97L1141.39 1071.39L1144.43 1067.55L1147.48 1063.45L1150.52 1059.1L1153.57 1054.5L1156.61 1049.65L1159.66 1044.56L1162.7 1039.24L1165.75 1033.72L1168.79 1028.02L1171.84 1022.16L1174.88 1016.17L1177.93 1010.09L1180.97 1003.94L1184.02 997.76L1187.06 991.59L1190.11 985.47L1193.15 979.42L1196.2 973.49L1199.24 967.7L1202.29 962.07L1205.33 956.65L1208.38 951.44L1211.42 946.45L1214.47 941.71L1217.51 937.22L1220.56 932.99L1223.6 929.02L1226.65 925.3L1229.69 921.83L1232.74 918.6L1235.78 915.62L1238.83 912.86L1241.87 910.31L1244.92 907.98L1247.96 905.83L1251.01 903.87L1254.05 902.08L1257.1 900.44L1260.14 898.95L1263.19 897.6L1266.23 896.37L1269.28 895.25L1272.32 894.24L1275.37 893.32L1278.41 892.5L1281.46 891.75L1284.5 891.07L1287.55 890.46L1290.59 889.91L1293.64 889.41L1296.68 888.97L1299.73 888.56L1302.77 888.2L1305.82 887.87L1308.86 887.58L1311.91 887.31L1314.95 887.08L1318 886.86L1321.04 886.67L1324.09 886.5L1327.13 886.34L1330.18 886.2L1333.22 886.08L1336.27 885.96L1339.31 885.86L1342.36 885.77L1345.4 885.69L1348.45 885.62L1351.49 885.55L1354.54 885.49L1357.58 885.44L1360.63 885.39L1363.67 885.35L1366.72 885.31L1369.76 885.28L1372.81 885.24L1375.85 885.22L1378.9 885.19L1381.94 885.17L1384.99 885.15L1388.03 885.13" stroke="#0a5fd0" stroke-width="3" fill="none"/>
<rect x="1077.93" y="1111.37" width="11.2" height="11.2" fill="#606060"/>
<rect x="1138.83" y="1110.86" width="11.2" height="11.2" fill="#606060"/>
<rect x="1199.73" y="1110.6" width="11.2" height="11.2" fill="#606060"/>
<rect x="1260.63" y="1104.21" width="11.2" height="11.2" fill="#606060"/>
<rect x="1321.53" y="1112.9" width="11.2" height="11.2" fill="#606060"/>
<path d="M1388.03 1076.6V1099.59M1382.53 1076.6h11" stroke="#606060" stroke-width="2.6"/>
<rect x="1382.43" y="1093.99" width="11.2" height="11.2" fill="#606060"/>
<path d="M1083.53 1108.93L1089.33 1119.93L1077.73 1119.93Z" fill="#c8000a"/>
<path d="M1144.43 1102.29L1150.23 1113.29L1138.63 1113.29Z" fill="#c8000a"/>
<path d="M1205.33 1094.12L1211.13 1105.12L1199.53 1105.12Z" fill="#c8000a"/>
<path d="M1266.23 944.76V979M1260.73 944.76h11M1260.73 979h11" stroke="#c8000a" stroke-width="2.6" fill="none"/>
<path d="M1266.23 957.68L1272.03 968.68L1260.43 968.68Z" fill="#c8000a"/>
<path d="M1327.13 940.67V992.79M1321.63 940.67h11M1321.63 992.79h11" stroke="#c8000a" stroke-width="2.6" fill="none"/>
<path d="M1327.13 961.77L1332.93 972.77L1321.33 972.77Z" fill="#c8000a"/>
<path d="M1388.03 947.97L1393.83 958.97L1382.23 958.97Z" fill="#c8000a"/>
<circle cx="1083.53" cy="1117.73" r="5.6" fill="#333333"/>
<circle cx="1144.43" cy="1117.73" r="5.6" fill="#333333"/>
<circle cx="1205.33" cy="1117.73" r="5.6" fill="#333333"/>
<circle cx="1266.23" cy="1117.73" r="5.6" fill="#333333"/>
<circle cx="1327.13" cy="1117.73" r="5.6" fill="#333333"/>
<circle cx="1388.03" cy="1117.73" r="5.6" fill="#333333"/>
<path d="M1083.53 1114.78L1089.33 1103.78L1077.73 1103.78Z" fill="#0a5fd0"/>
<path d="M1144.43 1080.03L1150.23 1069.03L1138.63 1069.03Z" fill="#0a5fd0"/>
<path d="M1205.33 973.74L1211.13 962.74L1199.53 962.74Z" fill="#0a5fd0"/>
<path d="M1266.23 903.74L1272.03 892.74L1260.43 892.74Z" fill="#0a5fd0"/>
<path d="M1327.13 891.47L1332.93 880.47L1321.33 880.47Z" fill="#0a5fd0"/>
<path d="M1388.03 878.33V895.19M1382.53 878.33h11M1382.53 895.19h11" stroke="#0a5fd0" stroke-width="2.6" fill="none"/>
<path d="M1388.03 892.5L1393.83 881.5L1382.23 881.5Z" fill="#0a5fd0"/>
<path d="M1475.7 831.9H1505.5" stroke="#333333" stroke-width="3"/>
<circle cx="1490.6" cy="831.9" r="5.8" fill="#333333"/>
<path d="M1475.7 870H1505.5" stroke="#606060" stroke-width="3"/>
<rect x="1484.8" y="864.2" width="11.6" height="11.6" fill="#606060"/>
<path d="M1475.7 921.6H1505.5" stroke="#c8000a" stroke-width="3"/>
<path d="M1490.6 915.4l5.8 11h-11.6z" fill="#c8000a"/>
<path d="M1475.7 978.7H1505.5" stroke="#0a5fd0" stroke-width="3"/>
<path d="M1490.6 985l5.8 -11h-11.6z" fill="#0a5fd0"/>
<text x="1522.5" y="840.5" font-size="23.7">&lt;EGFR&gt;-pro-A</text>
<text x="1522.5" y="878" font-size="23.7">&lt;FOLR1&gt;-pro-B</text>
<text x="1522.5" y="916.6" font-size="23.7">&lt;EGFR&gt;-pro-A +</text>
<text x="1522.5" y="943.3" font-size="23.7">&lt;FOLR1&gt;-pro-B</text>
<text x="1522.5" y="973.5" font-size="23.7">&lt;EGFR,FOLR1&gt;</text>
<text x="1534.5" y="1001" font-size="23.7">xTriFab TCB</text>
</svg>
</body></html>
